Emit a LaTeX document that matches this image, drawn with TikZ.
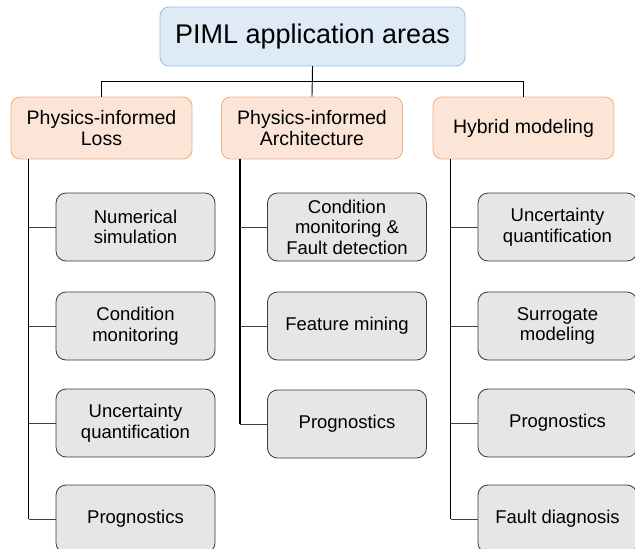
\documentclass[tikz,border=0pt]{standalone}
\usepackage{fontspec}
\setmainfont{Liberation Sans}
\definecolor{topfill}{HTML}{DEEBF7}
\definecolor{topline}{HTML}{9DC3E6}
\definecolor{areafill}{HTML}{FBE5D6}
\definecolor{arealine}{HTML}{F4B183}
\definecolor{taskfill}{HTML}{E6E6E6}
\definecolor{taskline}{HTML}{3A3A3A}
\tikzset{
    rootbox/.style={draw=topline, fill=topfill, rounded corners=9pt, line width=0.9pt,
        minimum width=305pt, minimum height=59pt, inner sep=0pt,
        font=\fontsize{27}{30}\selectfont},
    areabox/.style={draw=arealine, fill=areafill, rounded corners=9pt, line width=0.9pt,
        minimum width=181pt, minimum height=62pt, inner sep=0pt, align=center,
        font=\fontsize{19.5}{20.5}\selectfont},
    taskbox/.style={draw=taskline, fill=taskfill, rounded corners=10pt, line width=0.8pt,
        minimum width=159pt, minimum height=68pt, inner sep=0pt, align=center,
        font=\fontsize{18.5}{20.5}\selectfont},
    trunk/.style={line width=1.6pt, black},
    branch/.style={line width=0.8pt, black!75},
    bus/.style={line width=0.9pt, black}
}
\begin{document}
\begin{tikzpicture}[x=1pt, y=-1pt]
        \clip (0,0) rectangle (635,549);
        \fill[white] (0,0) rectangle (635,549);
        % Nodes
        \node[rootbox] (piml) at (312.5,36.5) {PIML application areas};
        \node[areabox] (loss) at (101.5,128) {Physics-informed\\Loss};
        \node[areabox] (arch) at (312,128) {Physics-informed\\Architecture};
        \node[areabox] (hybrid) at (523.5,128) {Hybrid modeling};
        \node[taskbox] (loss1) at (135.5,227) {Numerical\\simulation};
        \node[taskbox] (loss2) at (135.5,326) {Condition\\monitoring};
        \node[taskbox] (loss3) at (135.5,423) {Uncertainty\\quantification};
        \node[taskbox] (loss4) at (135.5,519) {Prognostics};
        \node[taskbox] (arch1) at (347,227) {Condition\\monitoring \&\\Fault detection};
        \node[taskbox] (arch2) at (347,326) {Feature mining};
        \node[taskbox] (arch3) at (347,424) {Prognostics};
        \node[taskbox] (hybrid1) at (557.5,227) {Uncertainty\\quantification};
        \node[taskbox] (hybrid2) at (557.5,326) {Surrogate\\modeling};
        \node[taskbox] (hybrid3) at (557.5,423) {Prognostics};
        \node[taskbox] (hybrid4) at (557.5,519) {Fault diagnosis};
        \coordinate (lossspine) at ([xshift=18pt]loss.south west);
        \coordinate (archspine) at ([xshift=19pt]arch.south west);
        \coordinate (hybridspine) at ([xshift=18pt]hybrid.south west);
        % Lines
        \draw[bus] (piml.south) -- ++(0,15) -| (loss.north);
        \draw[bus] (piml.south) -- (arch.north);
        \draw[bus] (piml.south) -- ++(0,15) -| (hybrid.north);
        \draw[trunk] (lossspine) -- (lossspine |- loss4.west);
        \draw[trunk] (archspine) -- (archspine |- arch3.west);
        \draw[trunk] (hybridspine) -- (hybridspine |- hybrid4.west);
        \draw[branch] (lossspine |- loss1.west) -- (loss1.west);
        \draw[branch] (lossspine |- loss2.west) -- (loss2.west);
        \draw[branch] (lossspine |- loss3.west) -- (loss3.west);
        \draw[branch] (lossspine |- loss4.west) -- (loss4.west);
        \draw[branch] (archspine |- arch1.west) -- (arch1.west);
        \draw[branch] (archspine |- arch2.west) -- (arch2.west);
        \draw[branch] (archspine |- arch3.west) -- (arch3.west);
        \draw[branch] (hybridspine |- hybrid1.west) -- (hybrid1.west);
        \draw[branch] (hybridspine |- hybrid2.west) -- (hybrid2.west);
        \draw[branch] (hybridspine |- hybrid3.west) -- (hybrid3.west);
        \draw[branch] (hybridspine |- hybrid4.west) -- (hybrid4.west);

    \end{tikzpicture}
\end{document}
